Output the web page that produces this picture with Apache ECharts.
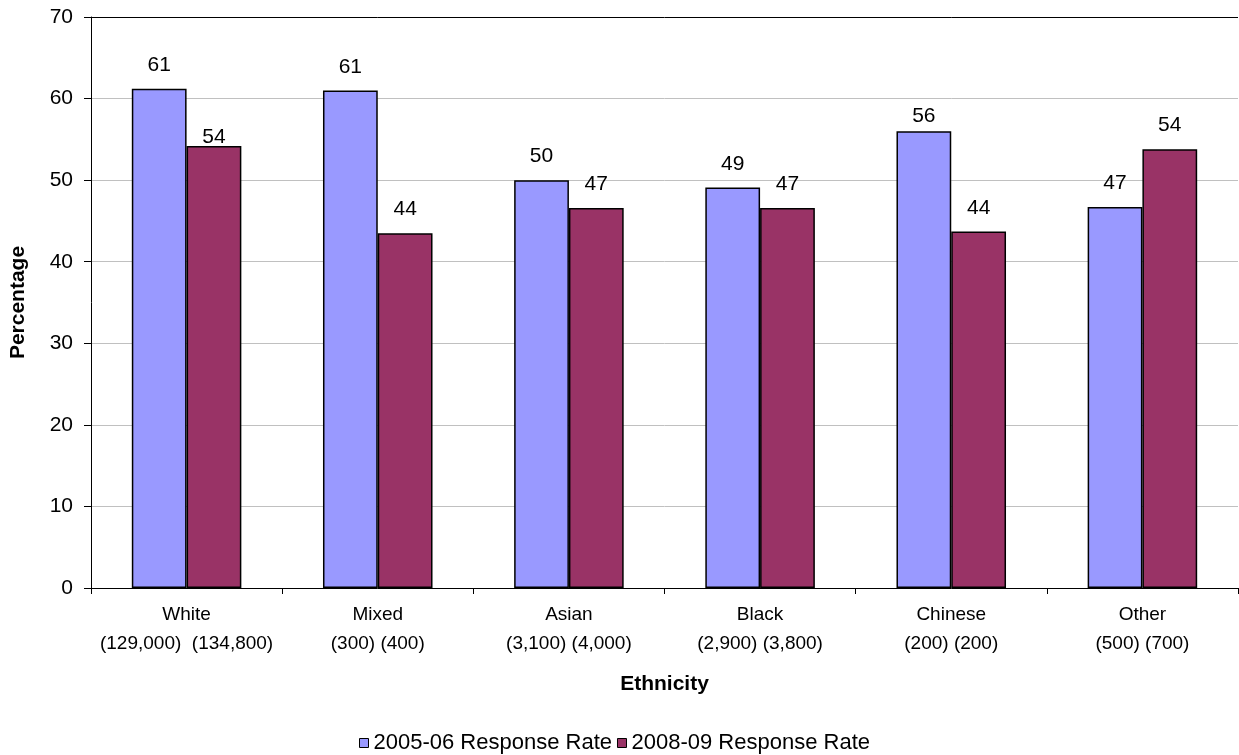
<!DOCTYPE html>
<html>
<head>
<meta charset="utf-8">
<title>Response rate by ethnicity</title>
<script src="https://cdn.jsdelivr.net/npm/echarts@6/dist/echarts.min.js"></script>
<style>
  html, body { margin: 0; padding: 0; background: #fff; }
  #chart { width: 1239px; height: 755px; }
</style>
</head>
<body>
<div id="chart"></div>
<script>
// Ethnic groups, with sample sizes for both survey years shown under each name
const categoryLabels = [
  'White\n(129,000)  (134,800)',
  'Mixed\n(300) (400)',
  'Asian\n(3,100) (4,000)',
  'Black\n(2,900) (3,800)',
  'Chinese\n(200) (200)',
  'Other\n(500) (700)'
];

// Response rates (%)
const rate0506 = [61.2, 61.0, 50.0, 49.1, 56.0, 46.7];
const rate0809 = [54.2, 43.5, 46.6, 46.6, 43.7, 53.8];

const seriesNames = ['2005-06 Response Rate', '2008-09 Response Rate'];

// Y axis scale
const yMin = 0;
const yMax = 70;
const yStep = 10;

const FONT = '"Liberation Sans", Arial, sans-serif';

// Labels sit a fixed gap above each bar, with a few tucked closer in
const labelGap = 13;
const labelGapOverrides = [{ 4: 4 }, { 0: -2 }];

function buildData(values, seriesIndex) {
  const overrides = labelGapOverrides[seriesIndex];
  return values.map((v, i) => {
    const item = { value: v };
    if (overrides[i] !== undefined) {
      item.label = { distance: overrides[i] };
    }
    return item;
  });
}

function barSeries(name, values, color, idx) {
  return {
    name: name,
    type: 'bar',
    data: buildData(values, idx),
    barGap: '0%',
    barCategoryGap: '42.7%',
    itemStyle: { color: color, borderColor: '#000', borderWidth: 1.5 },
    label: {
      show: true,
      position: 'top',
      distance: labelGap,
      color: '#000',
      fontFamily: FONT,
      fontSize: 21,
      formatter: p => String(Math.round(p.value))
    },
    emphasis: { disabled: true },
    animation: false
  };
}

const chart = echarts.init(document.getElementById('chart'), null, { renderer: 'canvas' });

// Gridlines are light grey except the top one, which closes the plot frame
const gridColors = [];
for (let v = yMin; v < yMax; v += yStep) gridColors.push('#c0c0c0');
gridColors.push('#000');

chart.setOption({
  animation: false,
  backgroundColor: '#fff',
  textStyle: { fontFamily: FONT, color: '#000' },
  grid: { left: 86, right: 1, top: 17, bottom: 167, containLabel: false },
  legend: {
    data: seriesNames,
    left: 354,
    top: 727,
    icon: 'rect',
    itemWidth: 9,
    itemHeight: 9,
    itemGap: 5,
    itemStyle: { borderColor: '#000', borderWidth: 1 },
    textStyle: { fontFamily: FONT, fontSize: 22, color: '#000' }
  },
  xAxis: {
    type: 'category',
    data: categoryLabels,
    name: 'Ethnicity',
    nameLocation: 'middle',
    nameGap: 86,
    nameTextStyle: { fontFamily: FONT, fontSize: 21, fontWeight: 'bold', color: '#000' },
    axisLine: { show: true, lineStyle: { color: '#000', width: 1 } },
    axisTick: { show: true, length: 6, lineStyle: { color: '#000' } },
    axisLabel: {
      color: '#000',
      fontFamily: FONT,
      fontSize: 19,
      lineHeight: 29,
      margin: 12,
      interval: 0
    },
    splitLine: { show: false }
  },
  yAxis: {
    type: 'value',
    min: yMin,
    max: yMax,
    interval: yStep,
    name: 'Percentage',
    nameLocation: 'middle',
    nameGap: 62,
    nameTextStyle: { fontFamily: FONT, fontSize: 21, fontWeight: 'bold', color: '#000' },
    axisLine: { show: true, lineStyle: { color: '#000', width: 1 } },
    axisTick: { show: true, length: 7, lineStyle: { color: '#000' } },
    axisLabel: { color: '#000', fontFamily: FONT, fontSize: 21, margin: 18 },
    splitLine: { show: true, lineStyle: { color: gridColors, width: 1 } }
  },
  series: [
    barSeries(seriesNames[0], rate0506, '#9999FF', 0),
    barSeries(seriesNames[1], rate0809, '#993366', 1)
  ]
});
</script>
</body>
</html>
